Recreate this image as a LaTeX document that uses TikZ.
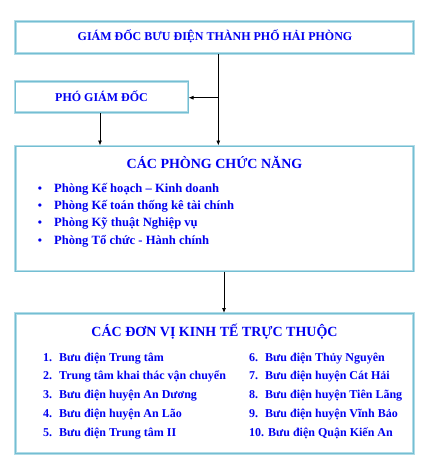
\documentclass[tikz,border=0pt]{standalone}
\usepackage{fontspec}
\setmainfont{Liberation Serif}
\usetikzlibrary{arrows.meta}
\definecolor{bdrout}{HTML}{B2DCE7}
\definecolor{bdrin}{HTML}{74BED3}
\definecolor{txtblue}{HTML}{0000F0}
\tikzset{
  box/.style={draw=bdrout, line width=1pt, double=bdrin, double distance=0.7pt, fill=white, inner sep=0pt},
  lbl/.style={text=txtblue, font=\bfseries\fontsize{12}{14}\selectfont, inner sep=0pt},
  blt/.style={text=txtblue, font=\bfseries\fontsize{12.6}{14}\selectfont, inner sep=0pt},
  ttl/.style={text=txtblue, font=\bfseries\fontsize{14}{16}\selectfont, inner sep=0pt},
  conn/.style={draw=black, line width=0.8pt, -{Latex[length=5pt,width=4pt]}},
  plain/.style={draw=black, line width=0.8pt}
}
\begin{document}
\begin{tikzpicture}[x=1pt,y=-1pt]
\useasboundingbox (0,0) rectangle (429,469);
% boxes
\node[box, minimum width=398pt, minimum height=32pt] (gd) at (214.5,37.5) {};
\node[box, minimum width=173pt, minimum height=31pt] (pgd) at (101.5,97) {};
\node[box, minimum width=398pt, minimum height=125pt] (pcn) at (214.5,208.5) {};
\node[box, minimum width=398pt, minimum height=140pt] (dv) at (214.5,383.5) {};
% titles
\node[lbl, anchor=base] (gdt) at (215,40.7) {GIÁM ĐỐC BƯU ĐIỆN THÀNH PHỐ HẢI PHÒNG};
\node[lbl, anchor=base] (pgdt) at (101.5,101) {PHÓ GIÁM ĐỐC};
\node[ttl, anchor=base] (pcnt) at (214.5,168.3) {CÁC PHÒNG CHỨC NĂNG};
\node[ttl, anchor=base] (dvt) at (214.5,336) {CÁC ĐƠN VỊ KINH TẾ TRỰC THUỘC};
% bullets
\foreach \i/\yy/\t in {1/192.3/{Phòng Kế hoạch – Kinh doanh},2/209.6/{Phòng Kế toán thống kê tài chính},3/226.9/{Phòng Kỹ thuật Nghiệp vụ},4/244.2/{Phòng Tổ chức - Hành chính}}{
  \node[lbl, anchor=base] (b\i) at (40,\yy) {\textbullet};
  \node[blt, anchor=base west] (p\i) at (54,\yy) {\t};
}
% units
\foreach \i/\yy/\t in {1/361/{Bưu điện Trung tâm},2/379.75/{Trung tâm khai thác vận chuyển},3/398.5/{Bưu điện huyện An Dương},4/417.25/{Bưu điện huyện An Lão},5/436/{Bưu điện Trung tâm II}}{
  \node[lbl, anchor=base west] (n\i) at (43,\yy) {\i.};
  \node[lbl, anchor=base west] (u\i) at (59,\yy) {\t};
}
\foreach \i/\yy/\t in {6/361/{Bưu điện Thủy Nguyên},7/379.75/{Bưu điện huyện Cát Hải},8/398.5/{Bưu điện huyện Tiên Lãng},9/417.25/{Bưu điện huyện Vĩnh Bảo}}{
  \node[lbl, anchor=base west] (n\i) at (249,\yy) {\i.};
  \node[lbl, anchor=base west] (u\i) at (265,\yy) {\t};
}
\node[lbl, anchor=base west] (u10) at (249,436) {10. Bưu điện Quận Kiến An};
% connectors
\coordinate (j) at (218.3,97.7);
\draw[plain] (gd.south -| j) -- (j);
\draw[conn] (j) -- (j -| pgd.east);
\draw[conn] (j) -- (j |- pcn.north);
\draw[conn] (pgd.south -| 100,0) -- (pcn.north -| 100,0);
\draw[conn] (pcn.south -| 224,0) -- (dv.north -| 224,0);
\end{tikzpicture}
\end{document}
